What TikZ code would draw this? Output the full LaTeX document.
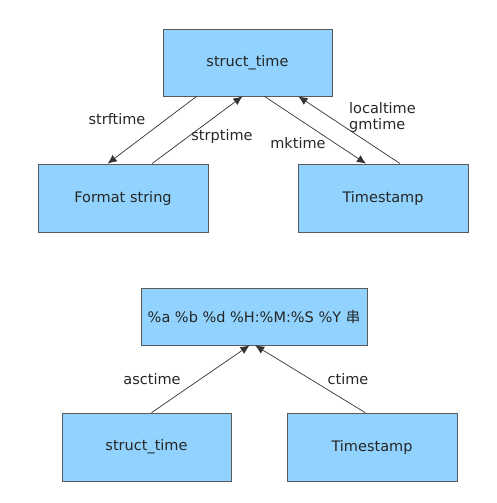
\documentclass[tikz,border=0pt]{standalone}
\usepackage{fontspec}
\setmainfont{DejaVu Sans}
\newfontfamily\cjkfont{Noto Sans CJK SC}
\usetikzlibrary{arrows.meta,calc}
\definecolor{boxfill}{HTML}{91D3FE}
\definecolor{boxline}{HTML}{5A5A5A}
\definecolor{arrline}{HTML}{333333}
\tikzset{
  box/.style={draw=boxline, line width=0.8pt, fill=boxfill, inner sep=0pt, anchor=center, text=black!85, font=\fontsize{14.5}{16}\selectfont},
  conn/.style={draw=arrline, line width=0.7pt, -{Latex[length=9pt,width=8pt]}},
  lbl/.style={text=black!85, font=\fontsize{14.5}{16}\selectfont, inner sep=0pt}
}
\begin{document}
\begin{tikzpicture}[x=1pt,y=-1pt]
\useasboundingbox (0,0) rectangle (497,503);
% top diagram
\node[box, minimum width=169pt, minimum height=67pt] (st) at (247.5,62.5) {struct\_time};
\node[box, minimum width=170pt, minimum height=68pt] (fs) at (123,198) {Format string};
\node[box, minimum width=170pt, minimum height=68pt] (ts) at (383,198) {Timestamp};
\coordinate (stA) at ($(st.south west)!0.20!(st.south east)$);
\coordinate (stB) at ($(st.south west)!0.47!(st.south east)$);
\coordinate (stC) at ($(st.south west)!0.60!(st.south east)$);
\coordinate (stD) at ($(st.south west)!0.80!(st.south east)$);
\coordinate (fsA) at ($(fs.north west)!0.41!(fs.north east)$);
\coordinate (fsB) at ($(fs.north west)!0.67!(fs.north east)$);
\coordinate (tsA) at ($(ts.north west)!0.40!(ts.north east)$);
\coordinate (tsB) at ($(ts.north west)!0.60!(ts.north east)$);
\draw[conn] (stA) -- (fsA);
\draw[conn] (fsB) -- (stB);
\draw[conn] (stC) -- (tsA);
\draw[conn] (tsB) -- (stD);
\node[lbl] (l1) at (117,119) {strftime};
\node[lbl] (l2) at (222,136) {strptime};
\node[lbl] (l3) at (298,143) {mktime};
\node[lbl, anchor=west] (l4) at (349,108) {localtime};
\node[lbl, anchor=west] (l5) at (349,125) {gmtime};
% bottom diagram
\node[box, minimum width=226pt, minimum height=57pt] (fmt) at (254,316.5) {\%a \%b \%d \%H:\%M:\%S \%Y {\cjkfont 串}};
\node[box, minimum width=169pt, minimum height=68pt] (st2) at (146.5,447) {struct\_time};
\node[box, minimum width=170pt, minimum height=68pt] (ts2) at (372,447) {Timestamp};
\coordinate (fmA) at ($(fmt.south west)!0.48!(fmt.south east)$);
\coordinate (fmB) at ($(fmt.south west)!0.505!(fmt.south east)$);
\coordinate (st2A) at ($(st2.north west)!0.53!(st2.north east)$);
\coordinate (ts2A) at ($(ts2.north west)!0.46!(ts2.north east)$);
\draw[conn] (st2A) -- (fmA);
\draw[conn] (ts2A) -- (fmB);
\node[lbl] (l6) at (152,379) {asctime};
\node[lbl] (l7) at (348,379) {ctime};
\end{tikzpicture}
\end{document}
